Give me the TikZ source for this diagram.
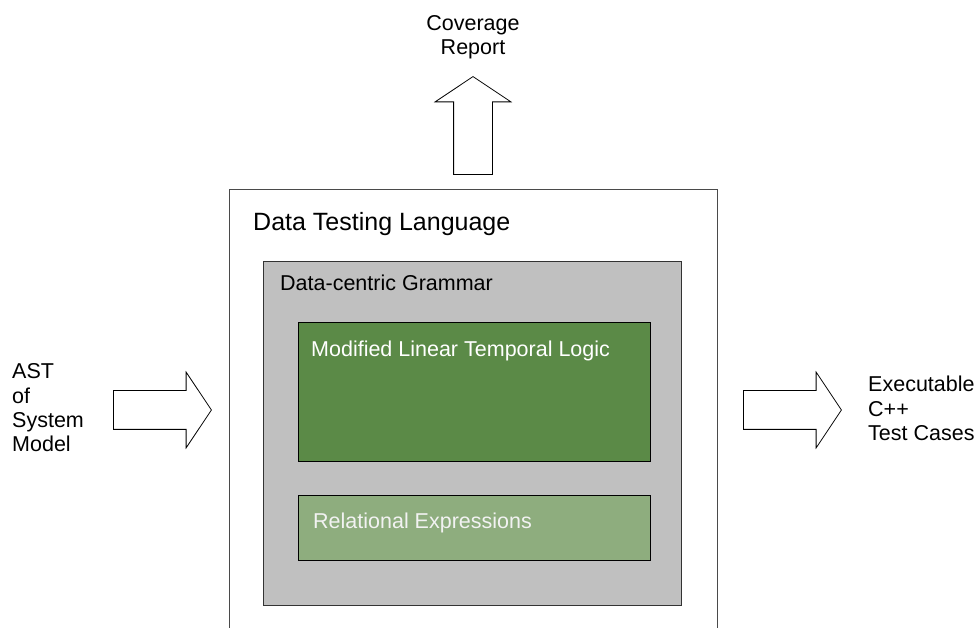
\documentclass[tikz,border=0pt]{standalone}
\usepackage{fontspec}
\setmainfont{Liberation Sans}
\usetikzlibrary{shapes.arrows}
\definecolor{framegray}{HTML}{4A4A4A}
\definecolor{grammarfill}{HTML}{C0C0C0}
\definecolor{ltlgreen}{HTML}{5B8A47}
\definecolor{relgreen}{HTML}{8EAD7E}
\tikzset{
  label text/.style={font=\fontsize{21.5}{24.5}\selectfont, inner sep=0pt, text=black},
  frame/.style={draw=framegray, line width=1.3pt, fill=white, inner sep=0pt, anchor=north west},
  grammarbox/.style={draw=black!80, line width=1.3pt, fill=grammarfill, inner sep=0pt, anchor=north west},
  logicbox/.style={draw=black, line width=1pt, inner sep=0pt, anchor=north west},
  blockarrow/.style={
    single arrow, draw=black, line width=0.8pt, fill=white,
    inner sep=19pt, minimum height=98pt,
    single arrow head extend=18.5pt, single arrow tip angle=112.6,
    anchor=tail
  }
}

\begin{document}
\begin{tikzpicture}[x=1pt,y=-1pt]
  \useasboundingbox (0,0) rectangle (978,628);
  \clip (0,0) rectangle (978,628);

  % nested language boxes
  \node[frame, minimum width=488pt, minimum height=470pt] (dtl) at (229,189) {};
  \node[grammarbox, minimum width=418pt, minimum height=344pt] (grammar) at (263,261) {};
  \node[logicbox, fill=ltlgreen, minimum width=352pt, minimum height=139pt] (ltl) at (298,322) {};
  \node[logicbox, fill=relgreen, minimum width=352pt, minimum height=65pt] (rel) at (298,495) {};

  % box titles
  \node[label text, font=\fontsize{25}{28}\selectfont, anchor=base west] (dtltitle) at (253,231) {Data Testing Language};
  \node[label text, anchor=base west] (grammartitle) at (280,291) {Data-centric Grammar};
  \node[label text, text=white, anchor=base west] (ltltitle) at (311,357) {Modified Linear Temporal Logic};
  \node[label text, text=white!95!black, anchor=base west] (reltitle) at (313,528) {Relational Expressions};

  % inputs and outputs
  \node[blockarrow] (astin) at (113,410) {};
  \node[blockarrow] (casesout) at (743,410) {};
  \node[blockarrow, shape border rotate=90] (reportout) at (473,175) {};

  % multi-line labels sit on their last baseline
  \node[label text, align=left, anchor=base west] (ast) at (12,452) {AST\\of\\System\\Model};
  \node[label text, align=left, anchor=base west] (cases) at (868,441) {Executable\\C++\\Test Cases};
  \node[label text, align=center, anchor=base] (report) at (473,55) {Coverage\\Report};
\end{tikzpicture}
\end{document}
